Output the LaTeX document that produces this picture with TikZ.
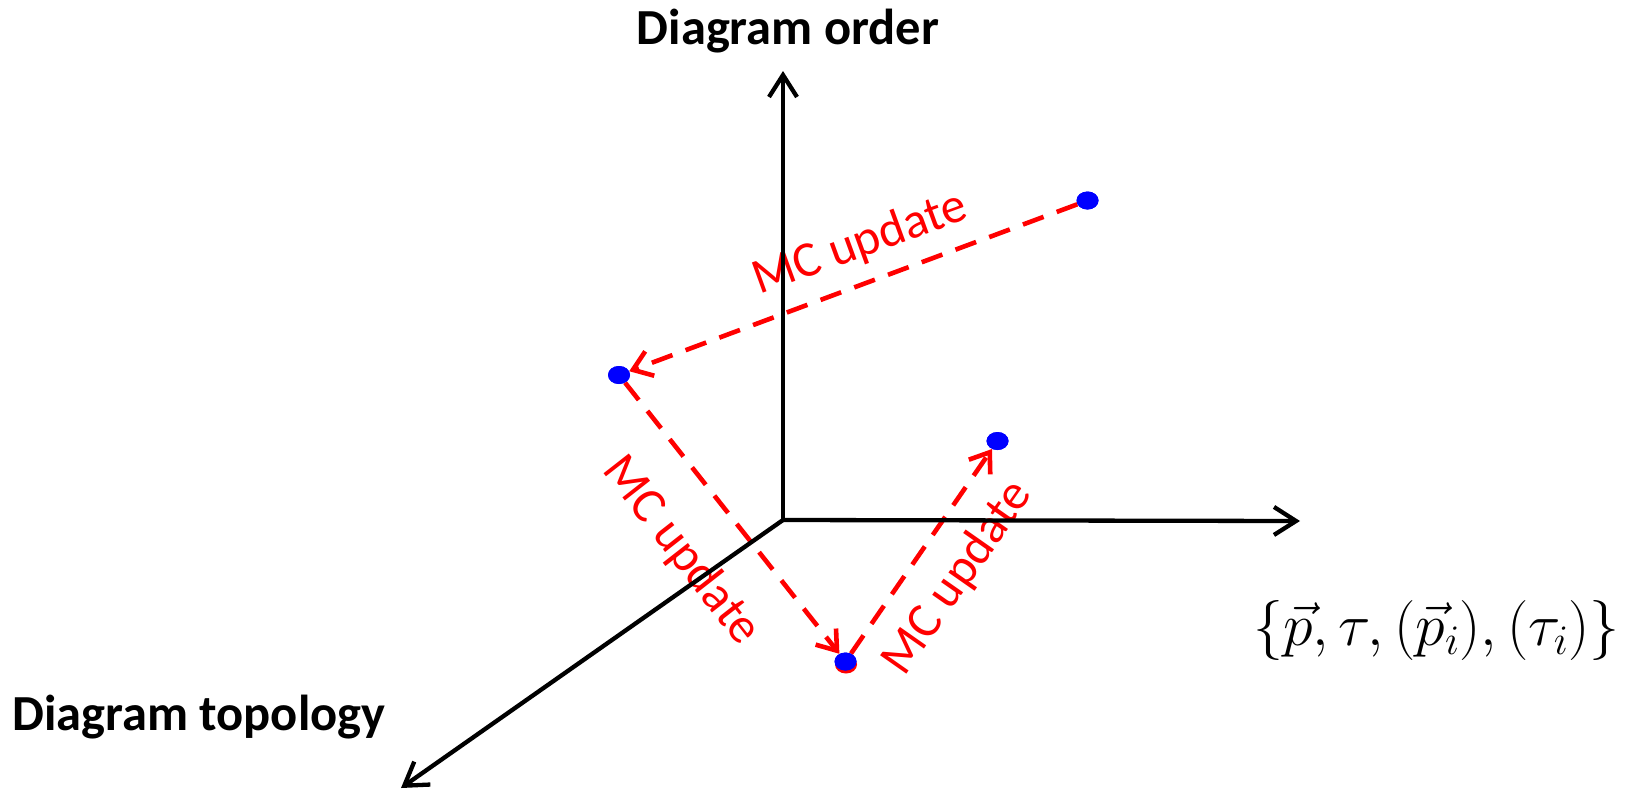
\RequirePackage{fix-cm}
\documentclass[tikz,border=0pt]{standalone}
\usepackage{fontspec}
\newfontfamily\calfont{Carlito}
\usetikzlibrary{arrows.meta,shapes.geometric}
\tikzset{
  axis/.style={line width=4.3pt,-{Straight Barb[length=22pt,width=28pt]}},
  mc/.style={red,line width=4.6pt,dash pattern=on 22pt off 14pt,-{Straight Barb[length=18pt,width=26pt]}},
  dot/.style={ellipse,fill=blue,inner sep=0pt,minimum width=22pt,minimum height=18pt},
  bigtitle/.style={inner sep=0pt,font=\calfont\bfseries\fontsize{50.5}{58}\selectfont},
  mclabel/.style={inner sep=0pt,text=red,font=\calfont\fontsize{50}{58}\selectfont}
}
\begin{document}
\begin{tikzpicture}[x=1pt,y=-1pt]
\useasboundingbox (0,0) rectangle (1640,790);
% origin and axis ends
\coordinate (O) at (783,520);
\coordinate (Zt) at (783,71);
\coordinate (Xt) at (1300,521);
\coordinate (Yt) at (401,788);
% points
\fill[red] (846,664.5) ellipse (11pt and 9pt);
\node[dot] (A) at (1087.5,200.5) {};
\node[dot] (B) at (619,375) {};
\node[dot] (C) at (845.5,661.5) {};
\node[dot] (D) at (997.5,441) {};
% MC updates
\draw[mc] (A) -- (B);
\draw[mc] (B) -- (C);
\draw[mc] (C) -- (D);
\node[mclabel,rotate=20] (L1) at (860,244) {MC update};
\node[mclabel,rotate=-52] (L2) at (681,551) {MC update};
\node[mclabel,rotate=55] (L3) at (958,578) {MC update};
% axes
\draw[axis] (O) -- (Zt);
\draw[axis] (O) -- (Xt);
\draw[axis] (O) -- (Yt);
% dots on top
\node[dot] at (A) {};
\node[dot] at (B) {};
\node[dot] at (C) {};
\node[dot] at (D) {};
% labels
\node[bigtitle,anchor=base] (T1) at (788,44) {Diagram order};
\node[bigtitle,anchor=base west] (T2) at (12,730) {Diagram topology};
\node[inner sep=0pt,anchor=base,font=\fontsize{60}{68}\selectfont] (T3) at (1436.5,645) {$\{\vec{p},\tau,(\vec{p}_i),(\tau_i)\}$};
\end{tikzpicture}
\end{document}
